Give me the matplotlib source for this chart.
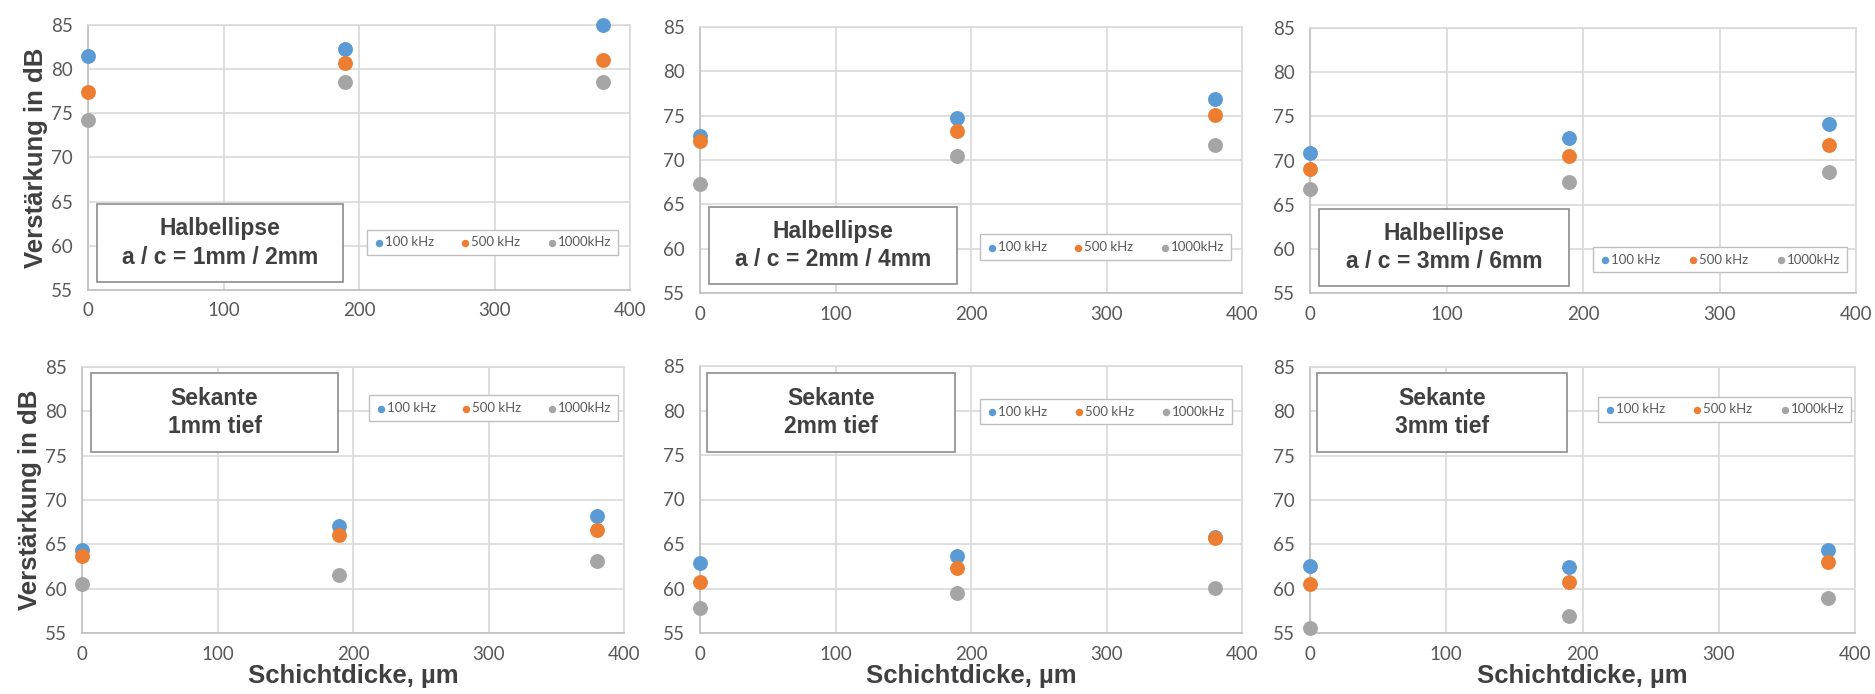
import matplotlib
matplotlib.use("Agg")
import matplotlib.pyplot as plt
from matplotlib.patches import Rectangle

# Schichtdicke in um
x_um = [0, 190, 380]
freq_labels = ["100 kHz", "500 kHz", "1000kHz"]
colors = ["#5B9BD5", "#ED7D31", "#A5A5A5"]

panel_titles = [
    "Halbellipse\na / c = 1mm / 2mm",
    "Halbellipse\na / c = 2mm / 4mm",
    "Halbellipse\na / c = 3mm / 6mm",
    "Sekante\n1mm tief",
    "Sekante\n2mm tief",
    "Sekante\n3mm tief",
]

# Verstaerkung in dB, rows: 100 kHz, 500 kHz, 1000 kHz
halb_1_2 = [[81.5, 82.3, 85.0], [77.4, 80.7, 81.0], [74.2, 78.5, 78.5]]
halb_2_4 = [[72.7, 74.7, 76.9], [72.1, 73.3, 75.1], [67.3, 70.4, 71.7]]
halb_3_6 = [[70.9, 72.5, 74.1], [69.0, 70.5, 71.7], [66.8, 67.6, 68.7]]
sek_1 = [[64.4, 67.1, 68.2], [63.7, 66.1, 66.6], [60.5, 61.5, 63.1]]
sek_2 = [[62.9, 63.7, 65.8], [60.7, 62.3, 65.7], [57.8, 59.5, 60.1]]
sek_3 = [[62.6, 62.4, 64.4], [60.5, 60.7, 63.0], [55.6, 56.9, 59.0]]
panel_data = [halb_1_2, halb_2_4, halb_3_6, sek_1, sek_2, sek_3]

W, H = 1875, 694
fig = plt.figure(figsize=(W / 100, H / 100), dpi=100)
fig.patch.set_facecolor("white")

def fx(px):
    return px / W

def fy(py):
    return 1 - py / H

# pixel layout: (left, right, top, bottom)
axes_px = [(88, 630, 25, 290), (700, 1242, 27, 293), (1310, 1856, 28, 293),
           (82, 624, 367, 633), (700, 1242, 366, 633), (1310, 1855, 367, 633)]
box_px = [(97, 343, 204, 282), (709, 957, 207, 284), (1319, 1569, 209, 286),
          (91, 338, 373, 452), (707, 955, 373, 452), (1317, 1567, 373, 452)]
leg_px = [(367, 618, 228, 257), (980, 1231, 232, 262), (1593, 1847, 245, 274),
          (369, 618, 393, 423), (980, 1232, 397, 426), (1598, 1851, 395, 424)]

text_dark = "#404040"
tick_col = "#595959"
grid_col = "#D9D9D9"

for i in range(6):
    l, r, t, b = axes_px[i]
    ax = fig.add_axes([fx(l), fy(b), fx(r) - fx(l), fy(t) - fy(b)])
    for k in range(3):
        ax.scatter(x_um, panel_data[i][k], s=115, color=colors[k],
                   label=freq_labels[k], zorder=3, clip_on=False, linewidths=0)
    ax.set_xlim(0, 400)
    ax.set_ylim(55, 85)
    ax.set_xticks([0, 100, 200, 300, 400])
    ax.set_yticks([55, 60, 65, 70, 75, 80, 85])
    ax.grid(True, color=grid_col, linewidth=1.2)
    ax.set_axisbelow(True)
    for sp in ax.spines.values():
        sp.set_color(grid_col)
        sp.set_linewidth(1.2)
    ax.spines["left"].set_color("#BFBFBF")
    ax.spines["bottom"].set_color("#BFBFBF")
    ax.tick_params(length=0, pad=11, labelsize=13.5, labelcolor=tick_col)
    ax.tick_params(axis="x", pad=9)
    for lab in ax.get_xticklabels() + ax.get_yticklabels():
        lab.set_family("Lato")

    if i % 3 == 0:
        ax.set_ylabel("Verstärkung in dB", fontsize=18.5, fontweight="bold",
                      color=text_dark, family="Liberation Sans", labelpad=2)
    if i >= 3:
        ax.set_xlabel("Schichtdicke, µm", fontsize=18.5, fontweight="bold",
                      color=text_dark, family="Liberation Sans", labelpad=1)

    # label box
    bl, br, bt, bb = box_px[i]
    rect = Rectangle((fx(bl), fy(bb)), fx(br) - fx(bl), fy(bt) - fy(bb),
                     transform=fig.transFigure, facecolor="white",
                     edgecolor="#8C8C8C", linewidth=1.2, zorder=5)
    fig.patches.append(rect)
    fig.text((fx(bl) + fx(br)) / 2, (fy(bt) + fy(bb)) / 2, panel_titles[i],
             ha="center", va="center", fontsize=16.5, fontweight="bold",
             color=text_dark, family="Liberation Sans", linespacing=1.3,
             zorder=6)

    # legend
    ll, lr, lt, lb = leg_px[i]
    leg = ax.legend(loc="center", bbox_to_anchor=(fx(ll), fy(lb), fx(lr) - fx(ll), fy(lt) - fy(lb)),
                    bbox_transform=fig.transFigure, mode="expand", ncol=3,
                    fontsize=9.5, markerscale=0.5, handletextpad=0.05,
                    columnspacing=0.6, borderpad=0.5, fancybox=False,
                    framealpha=1, edgecolor="#BFBFBF", handlelength=0.8,
                    borderaxespad=0)
    leg.get_frame().set_linewidth(1.0)
    for txt in leg.get_texts():
        txt.set_color(tick_col)
        txt.set_family("Lato")

fig.savefig("out.png", dpi=100, facecolor="white")
